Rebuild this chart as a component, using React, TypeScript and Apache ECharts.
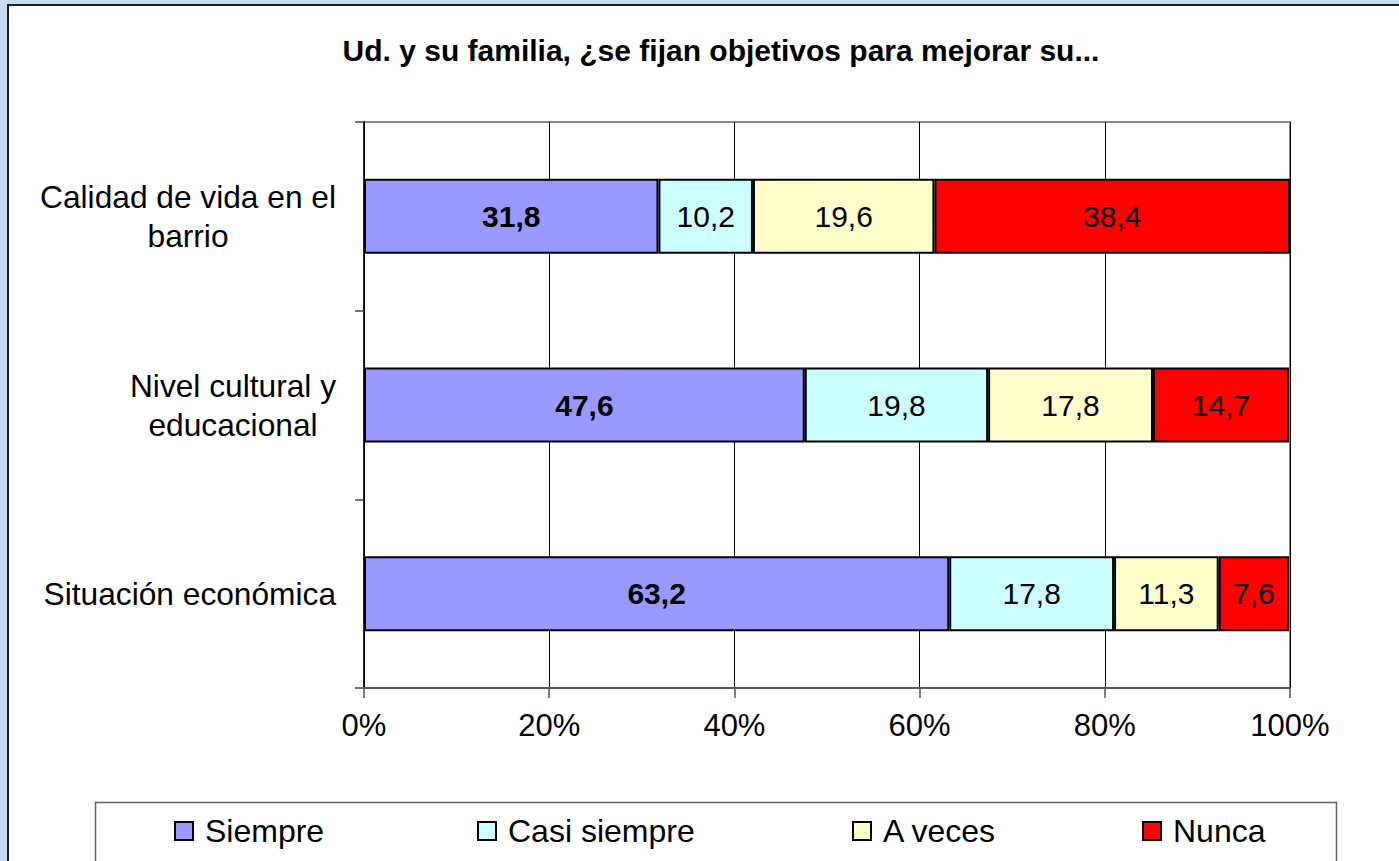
import React, { useEffect, useRef } from "react";
import * as echarts from "echarts";

const titleText = "Ud. y su familia, ¿se fijan objetivos para mejorar su...";
const categories = [
  "Situación económica",
  "Nivel cultural y\neducacional",
  "Calidad de vida en el\nbarrio",
];
const seriesNames = ["Siempre", "Casi siempre", "A veces", "Nunca"];
const siempre = [63.2, 47.6, 31.8];
const casiSiempre = [17.8, 19.8, 10.2];
const aVeces = [11.3, 17.8, 19.6];
const nunca = [7.6, 14.7, 38.4];
const colors = ["#9999ff", "#ccffff", "#ffffcc", "#ff0000"];
const legendLefts = [174, 477, 852, 1142];

const FONT = "'Liberation Sans', Arial, sans-serif";

export default function App() {
  const ref = useRef<HTMLDivElement>(null);
  useEffect(() => {
    if (!ref.current) return;
    const chart = echarts.init(ref.current, undefined, { renderer: "svg" });
    const values = [siempre, casiSiempre, aVeces, nunca];
    const series = seriesNames.map((name, i) => ({
      name,
      type: "bar",
      stack: "total",
      barWidth: 75,
      data: values[i],
      itemStyle: { color: colors[i], borderColor: "#000", borderWidth: 2 },
      label: {
        show: true,
        position: "inside",
        color: "#000",
        fontFamily: FONT,
        fontSize: 30,
        fontWeight: i === 0 ? "bold" : "normal",
        formatter: (p: any) => Number(p.value).toFixed(1).replace(".", ","),
      },
    }));
    const legends = seriesNames.map((name, i) => ({
      data: [name],
      left: legendLefts[i],
      top: 815,
      padding: 0,
      icon: "rect",
      itemWidth: 18,
      itemHeight: 18,
      itemGap: 0,
      textStyle: { fontFamily: FONT, fontSize: 32, color: "#000", padding: [0, 0, 0, 7] },
    }));
    chart.setOption({
      animation: false,
      backgroundColor: "#c8daf2",
      graphic: [
        {
          type: "rect",
          z: -10,
          shape: { x: 8, y: 5, width: 1400, height: 880 },
          style: { fill: "#ffffff", stroke: "#1e1e1e", lineWidth: 2 },
        },
        {
          type: "rect",
          z: -5,
          shape: { x: 95.5, y: 802.5, width: 1241, height: 100 },
          style: { fill: "none", stroke: "#666666", lineWidth: 1.5 },
        },
      ],
      title: {
        text: titleText,
        left: 716,
        top: 30,
        textAlign: "center",
        textStyle: { fontFamily: FONT, fontSize: 30, fontWeight: "bold", color: "#000" },
      },
      legend: legends,
      grid: {
        left: 364,
        right: 109,
        top: 122,
        bottom: 173,
        show: true,
        borderColor: "#8a8a8a",
        borderWidth: 2,
        backgroundColor: "transparent",
      },
      xAxis: {
        type: "value",
        min: 0,
        max: 100,
        interval: 20,
        axisLine: { show: true, lineStyle: { color: "#5a5a5a", width: 2 } },
        axisTick: { show: true, length: 10, lineStyle: { color: "#555", width: 1.5 } },
        splitLine: { show: true, lineStyle: { color: "#000", width: 1 } },
        axisLabel: {
          formatter: "{value}%",
          margin: 22,
          fontFamily: FONT,
          fontSize: 31,
          color: "#000",
        },
      },
      yAxis: {
        type: "category",
        data: categories,
        axisLine: { show: true, lineStyle: { color: "#000", width: 1.5 } },
        axisTick: { show: true, length: 9, lineStyle: { color: "#444", width: 1.5 } },
        axisLabel: {
          align: "right",
          margin: 28,
          formatter: (v: string) =>
            v
              .split("\n")
              .map((s) => "{c|" + s + "}")
              .join("\n"),
          rich: {
            c: {
              fontFamily: FONT,
              fontSize: 31.7,
              color: "#000",
              align: "center",
              lineHeight: 39,
            },
          },
        },
      },
      series,
    });
    return () => chart.dispose();
  }, []);
  return (
    <div
      ref={ref}
      style={{ position: "fixed", left: 0, top: 0, width: 1399, height: 861 }}
    />
  );
}
